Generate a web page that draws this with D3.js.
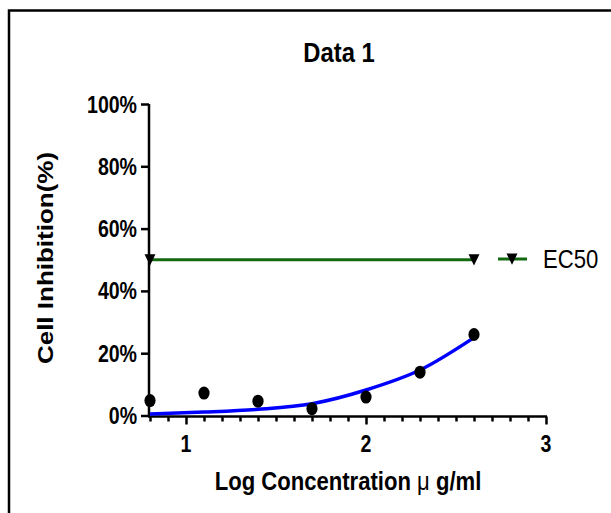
<!DOCTYPE html>
<html>
<head>
<meta charset="utf-8">
<script src="https://cdn.jsdelivr.net/npm/d3@7"></script>
<style>
  body { margin: 0; background: #fff; }
  svg { display: block; font-family: "Liberation Sans", Arial, sans-serif; }
</style>
</head>
<body>
<svg width="611" height="513"></svg>
<script>
// data
var logConc = [0.8, 1.1, 1.4, 1.7, 2.0, 2.3, 2.6];
var inhibition = [4.8, 7.2, 4.6, 2.2, 5.9, 13.9, 26.0];
// fitted curve
var fitX = [0.8, 1.1, 1.4, 1.7, 2.0, 2.3, 2.6];
var fitY = [0.5, 1.1, 2.0, 3.8, 8.2, 14.6, 25.0];
var ec50X = [0.8, 2.6];
var ec50Y = [50, 50];
var yTicks = [0, 20, 40, 60, 80, 100];
var xTicks = [1, 2, 3];

var sx = 0.85; // the picture is squeezed sideways

var svg = d3.select('svg');

// frame
svg.append('rect')
	.attr('x', 9).attr('y', 10.5)
	.attr('width', 700).attr('height', 600)
	.attr('fill', 'none').attr('stroke', '#000').attr('stroke-width', 2.5);

var x = d3.scaleLinear().domain([0.8, 3]).range([150, 546]);
var y = d3.scaleLinear().domain([0, 100]).range([415.5, 104]);

//helper: squeezed text
function label(txt, px, py, size, weight, anchor) {
	return svg.append('text')
		.attr('transform', 'translate(' + px + ',' + py + ') scale(' + sx + ',1)')
		.attr('font-size', size).attr('font-weight', weight)
		.attr('text-anchor', anchor).attr('fill', '#000')
		.text(txt);
}

// y axis
var yAxis = svg.append('g').attr('transform', 'translate(149,0)')
	.call(d3.axisLeft(y).tickValues(yTicks).tickSize(8).tickFormat(''));
yAxis.select('.domain').attr('d', 'M0,' + y(100) + 'V' + (y(0) + 1.5));
yAxis.selectAll('line').attr('stroke-width', 2.5);
yAxis.selectAll('path').attr('stroke-width', 2.5);
yTicks.forEach(function(t) {
	label(t + '%', 137, y(t) + 8.5, 23, 'bold', 'end');
});

// x axis, minor ticks every 0.1
var minor = d3.range(8, 31).map(function(d) { return d / 10; });
var xAxis = svg.append('g').attr('transform', 'translate(0,416.5)');
xAxis.call(d3.axisBottom(x).tickValues(minor).tickSize(5).tickFormat(''));
xAxis.selectAll('.tick line')
	.attr('y2', function(d) { return xTicks.indexOf(Math.round(d * 10) / 10) >= 0 ? 8 : 5; })
	.attr('stroke-width', 2.5);
xAxis.select('.domain').attr('d', 'M' + (x(0.8) - 2) + ',0H' + (x(3) + 1)).attr('stroke-width', 2.5);
xTicks.forEach(function(t) {
	label(String(t), x(t), 451.5, 23, 'bold', 'middle');
});

// fitted curve
var fit = fitX.map(function(d, i) { return [d, fitY[i]]; });
svg.append('path').datum(fit)
	.attr('fill', 'none').attr('stroke', '#0000ff').attr('stroke-width', 3.5)
	.attr('d', d3.line().x(function(d) { return x(d[0]); }).y(function(d) { return y(d[1]); })
		.curve(d3.curveMonotoneX));

// EC50 line
var ec = ec50X.map(function(d, i) { return [d, ec50Y[i]]; });
var green = '#12690f';
svg.append('path').datum(ec)
	.attr('fill', 'none').attr('stroke', green).attr('stroke-width', 3)
	.attr('d', d3.line().x(function(d) { return x(d[0]); }).y(function(d) { return y(d[1]); }));
var tri = 'M-5.5,-5.5L5.5,-5.5L0,5.8Z';
svg.selectAll('path.ecm').data(ec).enter().append('path')
	.attr('class', 'ecm').attr('d', tri).attr('fill', '#000')
	.attr('transform', function(d) { return 'translate(' + x(d[0]) + ',' + y(d[1]) + ')'; });

// data points
svg.selectAll('ellipse').data(logConc).enter().append('ellipse')
	.attr('cx', function(d) { return x(d); })
	.attr('cy', function(d, i) { return y(inhibition[i]); })
	.attr('rx', 5.6).attr('ry', 6.5).attr('fill', '#000');

// legend
svg.append('line').attr('x1', 498).attr('x2', 527).attr('y1', 259).attr('y2', 259)
	.attr('stroke', green).attr('stroke-width', 3);
svg.append('path').attr('d', tri).attr('fill', '#000').attr('transform', 'translate(512,259)');
label('EC50', 543, 267.5, 26, 'normal', 'start');

// titles
label('Data 1', 339, 62, 28, 'bold', 'middle');
var xl = label('', 348, 490, 26, 'bold', 'middle');
xl.append('tspan').text('Log Concentration ');
xl.append('tspan').attr('font-weight', 'normal').text('\u03bc');
xl.append('tspan').text(' g/ml');
svg.append('text')
	.attr('transform', 'translate(53,258) rotate(-90) scale(1,' + sx + ')')
	.attr('font-size', 26).attr('font-weight', 'bold').attr('text-anchor', 'middle')
	.text('Cell Inhibition(%)');
</script>
</body>
</html>
